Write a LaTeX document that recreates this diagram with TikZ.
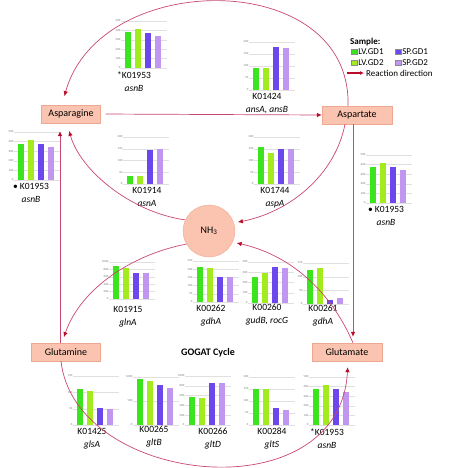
\documentclass[tikz,border=0pt]{standalone}
\usepackage{fontspec}
\setmainfont{Carlito}
\usetikzlibrary{arrows.meta,positioning}

\definecolor{lvone}{RGB}{60,228,30}
\definecolor{lvtwo}{RGB}{162,236,30}
\definecolor{spone}{RGB}{108,72,236}
\definecolor{sptwo}{RGB}{192,150,240}
\colorlet{bar1}{lvone}
\colorlet{bar2}{lvtwo}
\colorlet{bar3}{spone}
\colorlet{bar4}{sptwo}
\definecolor{boxfill}{RGB}{250,196,176}
\definecolor{boxedge}{RGB}{238,168,146}
\definecolor{rxnline}{RGB}{200,72,112}
\definecolor{rxnhead}{RGB}{186,12,40}

\tikzstyle{metabox} = [draw=boxedge, fill=boxfill, rectangle, minimum height=18pt,
    inner sep=0pt, font=\fontsize{10}{12}\selectfont]
\tikzstyle{rxn} = [draw=rxnline, line width=0.7pt,
    -{Latex[length=5pt,width=4.5pt,color=rxnhead]}, shorten >=6pt]
\tikzstyle{gridline} = [draw=black!12, line width=0.3pt]
\tikzstyle{ticklabel} = [font=\fontsize{3}{3}\selectfont, text=black!55, inner sep=0.5pt, anchor=east]
\tikzstyle{koname} = [font=\fontsize{9.5}{10}\selectfont, inner sep=0pt, text height=6.5pt, text depth=0pt]
\tikzstyle{genename} = [font=\fontsize{9.5}{10}\selectfont\itshape, inner sep=0pt, text height=6.5pt, text depth=2pt]
\tikzstyle{legsq} = [rectangle, draw=black!45, line width=0.3pt, minimum width=6pt, minimum height=5pt, inner sep=0pt]
\tikzstyle{legtext} = [font=\fontsize{9}{10}\selectfont, inner sep=0pt, anchor=west]

% #1 left of first bar, #2 base line, #3 height of top grid line, #4 max, #5 step, #6 values, #7 name
\newcommand{\genebars}[7]{%
  \foreach \t in {0,#5,...,#4} {
    \draw[gridline] (#1-4,{#2-\t/#4*#3}) -- ++(46,0);
    \node[ticklabel] (#7-\t) at (#1-4,{#2-\t/#4*#3}) {\t};
  }
  \foreach \v [count=\i] in {#6}
    \fill[bar\i] (#1+\i*10-10,#2) rectangle ++(6,{-\v/#4*#3});
}

\begin{document}
\begin{tikzpicture}[x=1pt,y=-1pt]
\useasboundingbox (0,0) rectangle (474,468);

% metabolites
\node[metabox, minimum width=59pt] (asn) at (71,114) {Asparagine};
\node[metabox, minimum width=70pt] (asp) at (357,115) {Aspartate};
\node[circle, draw=boxedge, fill=boxfill, minimum size=52pt, inner sep=0pt,
    font=\fontsize{10}{12}\selectfont] (nh3) at (209,231) {NH\textsubscript{3}};
\node[metabox, minimum width=69pt] (gln) at (66,352) {Glutamine};
\node[metabox, minimum width=70pt] (glu) at (347,352) {Glutamate};
\node[font=\fontsize{10}{12}\selectfont\bfseries] (gogat) at (208,353) {GOGAT Cycle};

% charts
\genebars{125}{68}{47}{500}{100}{380,420,370,345}{ca}
\node[koname] (koa) at (134,75) {*K01953};
\node[genename, below=6pt of koa] (gena) {asnB};

\genebars{253}{90}{48}{200}{50}{90,90,180,175}{cb}
\node[koname] (kob) at (267,96) {K01424};
\node[genename, below=6pt of kob] (genb) {ansA, ansB};

\genebars{18}{180}{48}{500}{100}{380,420,370,345}{cc}
\node[koname] (koc) at (31,186) {\textbullet\ K01953};
\node[genename, below=6pt of koc] (genc) {asnB};

\genebars{127}{184}{47}{200}{50}{33,33,145,150}{cd}
\node[koname] (kod) at (147,190) {K01914};
\node[genename, below=6pt of kod] (gend) {asnA};

\genebars{258}{184}{47}{200}{50}{158,130,150,150}{ce}
\node[koname] (koe) at (275,190) {K01744};
\node[genename, below=6pt of koe] (gene) {aspA};

\genebars{370}{203}{48}{500}{100}{380,420,370,345}{cf}
\node[koname] (kof) at (386,209) {\textbullet\ K01953};
\node[genename, below=6pt of kof] (genf) {asnB};

\genebars{113}{299}{37}{1000}{200}{890,830,690,710}{cg}
\node[koname] (kog) at (128,309) {K01915};
\node[genename, below=6pt of kog] (geng) {glnA};

\genebars{197}{302}{41}{250}{50}{215,210,150,155}{ch}
\node[koname] (koh) at (211,308) {K00262};
\node[genename, below=6pt of koh] (genh) {gdhA};

\genebars{252}{303}{41}{400}{100}{250,290,355,345}{ci}
\node[koname] (koi) at (267,307) {K00260};
\node[genename, below=6pt of koi] (geni) {gudB, rocG};

\genebars{307}{304}{41}{150}{50}{123,133,14,23}{cj}
\node[koname] (koj) at (323,308) {K00261};
\node[genename, below=6pt of koj] (genj) {gdhA};

\genebars{77}{425}{49}{150}{50}{109,105,53,49}{ck}
\node[koname] (kok) at (92,431) {K01425};
\node[genename, below=6pt of kok] (genk) {glsA};

\genebars{137}{425}{48}{1000}{500}{965,910,841,779}{cl}
\node[koname] (kol) at (154,429) {K00265};
\node[genename, below=6pt of kol] (genl) {gltB};

\genebars{189}{425}{49}{1000}{200}{578,544,864,864}{cm}
\node[koname] (kom) at (213,431) {K00266};
\node[genename, below=6pt of kom] (genm) {gltD};

\genebars{253}{425}{48}{200}{50}{148,148,72,62}{cn}
\node[koname] (kon) at (272,431) {K00284};
\node[genename, below=6pt of kon] (genn) {gltS};

\genebars{313}{425}{48}{500}{100}{380,420,370,345}{co}
\node[koname] (koo) at (327,432) {*K01953};
\node[genename, below=6pt of koo] (geno) {asnB};

% reactions
\draw[rxn, shorten >=9pt] ([xshift=-9pt]asp.north) .. controls (352,-32) and (100,-32) .. ([xshift=-9pt]asn.north);
\draw[rxn, shorten <=5pt, shorten >=0pt] (asn.east) -- (asp.west);
\draw[rxn] ([xshift=-4pt]asp.south) -- ([xshift=6pt]glu.north);
\draw[rxn, shorten >=8pt] ([xshift=-6pt]gln.north) -- ([xshift=-11pt]asn.south);
\draw[rxn, shorten >=8pt] (nh3.155) .. controls (130,212) and (80,170) .. ([xshift=-4pt]asn.south);
\draw[rxn, shorten >=4pt] ([xshift=-12pt]asp.south) .. controls (335,175) and (290,212) .. (nh3.18);
\draw[rxn, shorten >=4pt] ([xshift=6pt]glu.north) .. controls (330,290) and (290,255) .. (nh3.-25);
\draw[rxn] (nh3.210) .. controls (130,255) and (80,290) .. ([xshift=-4pt]gln.north);
\draw[rxn] ([xshift=-5pt]gln.south) .. controls (75,486) and (340,514) .. ([xshift=1pt]glu.south);

% legend
\node[legtext, font=\fontsize{9}{10}\selectfont\bfseries] (legtitle) at (350,42) {Sample:};
\node[legsq, fill=lvone] (sq1) at (354,52) {};
\node[legtext, right=1pt of sq1] (lv1) {LV.GD1};
\node[legsq, fill=spone] (sq3) at (398,52) {};
\node[legtext, right=1pt of sq3] (sp1) {SP.GD1};
\node[legsq, fill=lvtwo] (sq2) at (354,63) {};
\node[legtext, right=1pt of sq2] (lv2) {LV.GD2};
\node[legsq, fill=sptwo] (sq4) at (398,63) {};
\node[legtext, right=1pt of sq4] (sp2) {SP.GD2};
\coordinate (la1) at (347,73);
\coordinate (la2) at (364,73);
\draw[draw=rxnhead, line width=1.1pt, -{Latex[length=4pt,width=4pt]}] (la1) -- (la2);
\node[legtext] (rxndir) at (366,73) {Reaction direction};
\end{tikzpicture}
\end{document}
